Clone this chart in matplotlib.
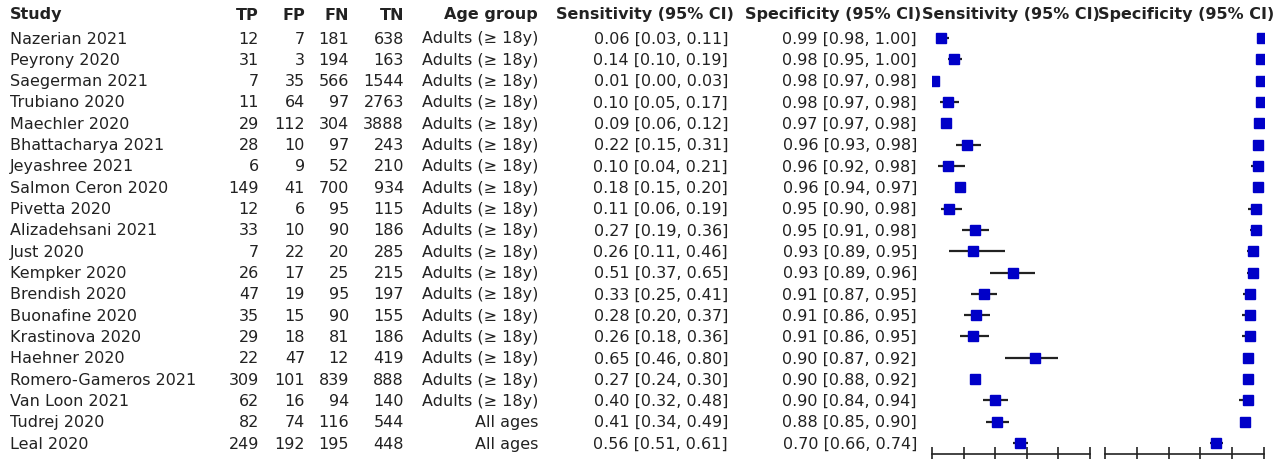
import matplotlib.pyplot as plt

studies = ["Nazerian 2021", "Peyrony 2020", "Saegerman 2021", "Trubiano 2020", "Maechler 2020",
           "Bhattacharya 2021", "Jeyashree 2021", "Salmon Ceron 2020", "Pivetta 2020",
           "Alizadehsani 2021", "Just 2020", "Kempker 2020", "Brendish 2020", "Buonafine 2020",
           "Krastinova 2020", "Haehner 2020", "Romero-Gameros 2021", "Van Loon 2021",
           "Tudrej 2020", "Leal 2020"]
tp = [12, 31, 7, 11, 29, 28, 6, 149, 12, 33, 7, 26, 47, 35, 29, 22, 309, 62, 82, 249]
fp = [7, 3, 35, 64, 112, 10, 9, 41, 6, 10, 22, 17, 19, 15, 18, 47, 101, 16, 74, 192]
fn = [181, 194, 566, 97, 304, 97, 52, 700, 95, 90, 20, 25, 95, 90, 81, 12, 839, 94, 116, 195]
tn = [638, 163, 1544, 2763, 3888, 243, 210, 934, 115, 186, 285, 215, 197, 155, 186, 419, 888, 140, 544, 448]
age = ["Adults (\u2265 18y)"] * 18 + ["All ages", "All ages"]

sens = [0.06, 0.14, 0.01, 0.10, 0.09, 0.22, 0.10, 0.18, 0.11, 0.27, 0.26, 0.51, 0.33, 0.28, 0.26, 0.65, 0.27, 0.40, 0.41, 0.56]
sens_lo = [0.03, 0.10, 0.00, 0.05, 0.06, 0.15, 0.04, 0.15, 0.06, 0.19, 0.11, 0.37, 0.25, 0.20, 0.18, 0.46, 0.24, 0.32, 0.34, 0.51]
sens_hi = [0.11, 0.19, 0.03, 0.17, 0.12, 0.31, 0.21, 0.20, 0.19, 0.36, 0.46, 0.65, 0.41, 0.37, 0.36, 0.80, 0.30, 0.48, 0.49, 0.61]
spec = [0.99, 0.98, 0.98, 0.98, 0.97, 0.96, 0.96, 0.96, 0.95, 0.95, 0.93, 0.93, 0.91, 0.91, 0.91, 0.90, 0.90, 0.90, 0.88, 0.70]
spec_lo = [0.98, 0.95, 0.97, 0.97, 0.97, 0.93, 0.92, 0.94, 0.90, 0.91, 0.89, 0.89, 0.87, 0.86, 0.86, 0.87, 0.88, 0.84, 0.85, 0.66]
spec_hi = [1.00, 1.00, 0.98, 0.98, 0.98, 0.98, 0.98, 0.97, 0.98, 0.98, 0.95, 0.96, 0.95, 0.95, 0.95, 0.92, 0.92, 0.94, 0.90, 0.74]

W, H = 1283, 460
row0, step = 39, 21.32
fs = 11.5
tc = "#222222"


def rows_at(px):
    return (px - row0) / step


fig = plt.figure(figsize=(W / 100, H / 100), dpi=100)

# table part
tab = fig.add_axes([0, 0, 1, 1])
tab.set_xlim(0, W)
tab.set_ylim(rows_at(H), rows_at(0))
tab.axis("off")

hy = rows_at(15)
head = dict(fontsize=fs, fontweight="bold", color=tc, va="center")
tab.text(10, hy, "Study", ha="left", **head)
tab.text(259, hy, "TP", ha="right", **head)
tab.text(305, hy, "FP", ha="right", **head)
tab.text(349, hy, "FN", ha="right", **head)
tab.text(404, hy, "TN", ha="right", **head)
tab.text(538, hy, "Age group", ha="right", **head)
tab.text(645, hy, "Sensitivity (95% CI)", ha="center", **head)
tab.text(833, hy, "Specificity (95% CI)", ha="center", **head)
tab.text(1011, hy, "Sensitivity (95% CI)", ha="center", **head)
tab.text(1186, hy, "Specificity (95% CI)", ha="center", **head)

body = dict(fontsize=fs, color=tc, va="center")
for i in range(len(studies)):
    tab.text(10, i, studies[i], ha="left", **body)
    tab.text(259, i, str(tp[i]), ha="right", **body)
    tab.text(305, i, str(fp[i]), ha="right", **body)
    tab.text(349, i, str(fn[i]), ha="right", **body)
    tab.text(404, i, str(tn[i]), ha="right", **body)
    tab.text(538, i, age[i], ha="right", **body)
    tab.text(728, i, "%.2f [%.2f, %.2f]" % (sens[i], sens_lo[i], sens_hi[i]), ha="right", **body)
    tab.text(917, i, "%.2f [%.2f, %.2f]" % (spec[i], spec_lo[i], spec_hi[i]), ha="right", **body)

# forest plots
top_px, bot_px = 28, 455
for x0, x1, val, lo, hi in [(932, 1090, sens, sens_lo, sens_hi),
                            (1105, 1264, spec, spec_lo, spec_hi)]:
    ax = fig.add_axes([x0 / W, (H - bot_px) / H, (x1 - x0) / W, (bot_px - top_px) / H])
    ax.set_xlim(0, 1)
    ax.set_ylim(rows_at(bot_px), rows_at(top_px))
    ys = list(range(len(val)))
    ax.hlines(ys, lo, hi, color="#222222", lw=1.6, zorder=1)
    ax.plot(val, ys, "s", color="#0000C8", markersize=6.5, zorder=2)
    ax.set_xticks([0, 0.2, 0.4, 0.6, 0.8, 1.0])
    ax.set_xticklabels([])
    ax.set_yticks([])
    ax.tick_params(axis="x", direction="inout", length=10, width=1.2, color="#222222")
    for s in ["top", "left", "right"]:
        ax.spines[s].set_visible(False)
    ax.spines["bottom"].set_linewidth(1.2)
    ax.spines["bottom"].set_color("#222222")
    ax.patch.set_alpha(0)

fig.savefig("out.png", dpi=100)
